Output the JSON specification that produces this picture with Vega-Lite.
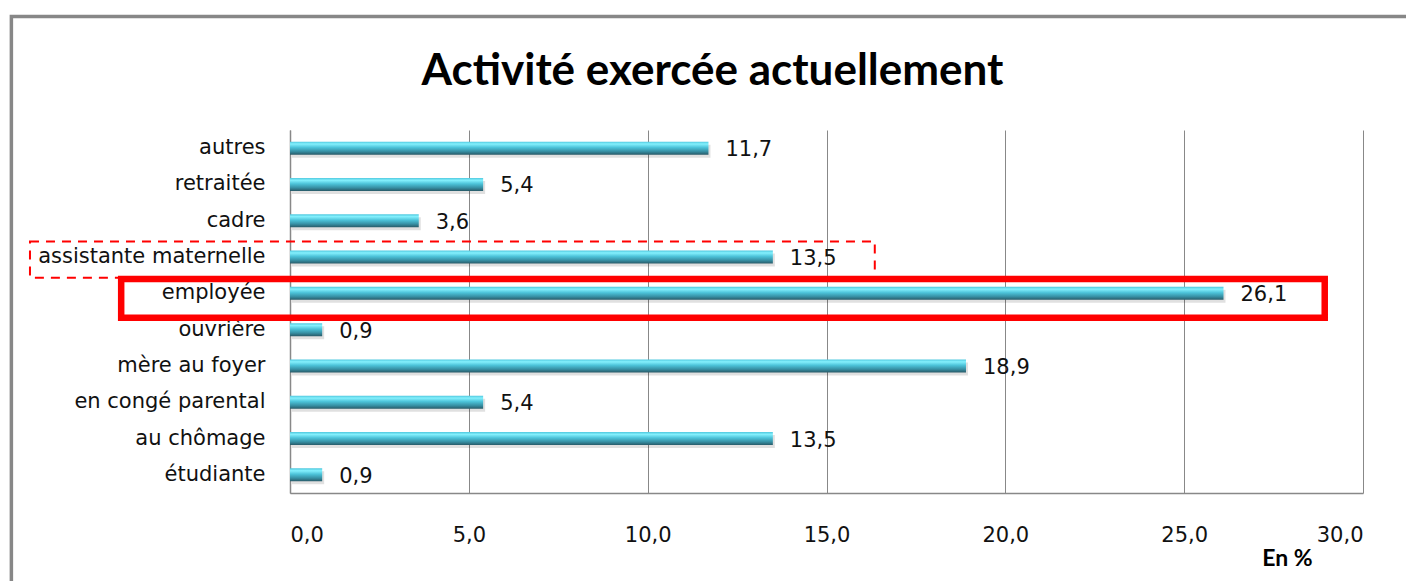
{
  "$schema": "https://vega.github.io/schema/vega-lite/v6.json",
  "width": 1073,
  "height": 363,
  "autosize": {"type": "none"},
  "padding": {"left": 290, "top": 130, "right": 43, "bottom": 88},
  "background": "#ffffff",
  "config": {
    "view": {"stroke": null},
    "locale": {"number": {"decimal": ",", "thousands": " ", "grouping": [3], "currency": ["", " €"]}}
  },
  "title": {
    "text": "Activité exercée actuellement",
    "font": "Lato",
    "fontWeight": "bold",
    "fontSize": 44,
    "color": "#000000",
    "anchor": "middle",
    "frame": "group",
    "dx": -114,
    "baseline": "alphabetic",
    "offset": -114
  },
  "datasets": {
    "bars": [
      {"activite": "autres", "pct": 11.7},
      {"activite": "retraitée", "pct": 5.4},
      {"activite": "cadre", "pct": 3.6},
      {"activite": "assistante maternelle", "pct": 13.5},
      {"activite": "employée", "pct": 26.1},
      {"activite": "ouvrière", "pct": 0.9},
      {"activite": "mère au foyer", "pct": 18.9},
      {"activite": "en congé parental ", "pct": 5.4},
      {"activite": "au chômage", "pct": 13.5},
      {"activite": "étudiante", "pct": 0.9}
    ],
    "boxes": [
      {"activite": "assistante maternelle", "debut": -7.27, "fin": 16.35, "style": "pointillé"},
      {"activite": "employée", "debut": -4.72, "fin": 28.93, "style": "plein"}
    ],
    "cadre": [
      {"x0": -7.79, "x1": 31.8, "y0": -0.4, "y1": 1.3127}
    ]
  },
  "layer": [
    {
      "data": {"name": "cadre"},
      "mark": {"type": "rect", "fill": null, "stroke": "#878787", "strokeWidth": 3.5, "clip": false},
      "encoding": {
        "x": {"field": "x0", "type": "quantitative", "scale": {"domain": [0, 30], "nice": false, "zero": false}},
        "x2": {"field": "x1"},
        "y": {"field": "y0", "type": "quantitative", "scale": {"domain": [0, 1], "nice": false, "zero": false}, "axis": null},
        "y2": {"field": "y1"}
      }
    },
    {
      "layer": [
        {
          "data": {"name": "bars"},
          "mark": {"type": "bar", "height": 13, "color": "#000000", "opacity": 0.12, "yOffset": 3, "xOffset": 2},
          "encoding": {
            "y": {
              "field": "activite", "type": "nominal", "sort": null,
              "scale": {"paddingInner": 0, "paddingOuter": 0},
              "axis": {
                "title": null, "ticks": false, "domain": true, "domainColor": "#888888", "domainWidth": 1.5,
                "labelFont": "DejaVu Sans", "labelFontSize": 21, "labelColor": "#111111", "labelPadding": 25,
                "labelLimit": 400
              }
            },
            "x": {
              "field": "pct", "type": "quantitative",
              "scale": {"domain": [0, 30], "nice": false},
              "axis": {
                "values": [0, 5, 10, 15, 20, 25, 30], "format": ".1f",
                "grid": true, "gridColor": "#888888", "gridWidth": 1,
                "ticks": false, "domain": true, "domainColor": "#888888", "domainWidth": 1.5,
                "labelFont": "DejaVu Sans", "labelFontSize": 21, "labelColor": "#111111", "labelPadding": 31,
                "title": "En %", "titleFont": "Lato", "titleFontWeight": "bold", "titleFontSize": 23,
                "titleColor": "#000000", "titleAlign": "center", "titleBaseline": "alphabetic",
                "titleX": 997, "titleY": 72
              }
            }
          }
        },
        {
          "data": {"name": "bars"},
          "mark": {
            "type": "bar", "height": 13,
            "color": {
              "gradient": "linear", "x1": 0, "y1": 0, "x2": 0, "y2": 1,
              "stops": [
                {"offset": 0, "color": "#4fc8de"},
                {"offset": 0.18, "color": "#84f0fd"},
                {"offset": 0.45, "color": "#4cc3d9"},
                {"offset": 0.75, "color": "#3790a4"},
                {"offset": 1, "color": "#285a68"}
              ]
            }
          },
          "encoding": {
            "y": {"field": "activite", "type": "nominal", "sort": null},
            "x": {"field": "pct", "type": "quantitative"}
          }
        },
        {
          "data": {"name": "bars"},
          "mark": {"type": "text", "align": "left", "baseline": "middle", "dx": 17, "dy": 2, "font": "DejaVu Sans", "fontSize": 21, "color": "#111111"},
          "encoding": {
            "y": {"field": "activite", "type": "nominal", "sort": null},
            "x": {"field": "pct", "type": "quantitative"},
            "text": {"field": "pct", "type": "quantitative", "format": ".1f"}
          }
        },
        {
          "data": {"name": "boxes"},
          "transform": [{"filter": "datum.style === 'pointillé'"}],
          "mark": {"type": "bar", "fill": null, "stroke": "#ff0000", "strokeWidth": 2, "strokeDash": [9, 7], "height": {"band": 1.0}, "yOffset": 2.5, "clip": false},
          "encoding": {
            "y": {"field": "activite", "type": "nominal", "sort": null},
            "x": {"field": "debut", "type": "quantitative"},
            "x2": {"field": "fin"}
          }
        },
        {
          "data": {"name": "boxes"},
          "transform": [{"filter": "datum.style === 'plein'"}],
          "mark": {"type": "bar", "fill": null, "stroke": "#ff0000", "strokeWidth": 6.5, "height": {"band": 1.07}, "yOffset": 5, "clip": false},
          "encoding": {
            "y": {"field": "activite", "type": "nominal", "sort": null},
            "x": {"field": "debut", "type": "quantitative"},
            "x2": {"field": "fin"}
          }
        }
      ]
    }
  ],
  "resolve": {"scale": {"y": "independent"}, "axis": {"y": "independent"}}
}
